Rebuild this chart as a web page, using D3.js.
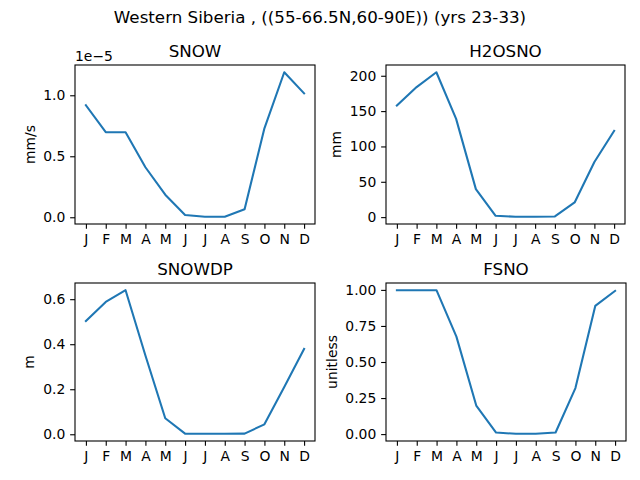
<!DOCTYPE html>
<html>
  <head>
    <meta charset="utf-8">
    <title>Western Siberia snow climatology</title>
    <script src="https://cdn.jsdelivr.net/npm/d3@7"></script>
    <style>
      body { margin: 0; background: #fff; }
      #chart { width: 640px; height: 480px; display: block; font-family: "DejaVu Sans", sans-serif; }
      .axis text { font-size: 13.9px; fill: #000; font-family: "DejaVu Sans", sans-serif; }
      .axis line { stroke: #000; stroke-width: 1.1px; }
      .axis path { display: none; }
      .frame { fill: none; stroke: #000; stroke-width: 1.1px; }
      .series { fill: none; stroke: #1f77b4; stroke-width: 2.08px; stroke-linejoin: round; stroke-linecap: square; }
      .panelTitle, #suptitle { font-size: 16.7px; text-anchor: middle; }
      .yLabel { font-size: 13.9px; text-anchor: middle; }
    </style>
  </head>

  <body>
    <svg id="chart" width="640" height="480">
      <text id="suptitle" x="320" y="23">Western Siberia , ((55-66.5N,60-90E)) (yrs 23-33)</text>
    </svg>

    <script>
      // data, monthly means
      months = ["J", "F", "M", "A", "M", "J", "J", "A", "S", "O", "N", "D"];
      snow = [0.918e-5, 0.697e-5, 0.697e-5, 0.41e-5, 0.185e-5, 0.018e-5, 0.004e-5, 0.004e-5, 0.066e-5, 0.729e-5, 1.189e-5, 1.016e-5];
      h2osno = [158, 184, 205, 139, 39.6, 1.9, 0.5, 0.5, 1, 20.8, 78, 122];
      snowdp = [0.503, 0.588, 0.640, 0.35, 0.071, 0.003, 0.002, 0.002, 0.003, 0.044, 0.21, 0.379];
      fsno = [0.998, 0.998, 0.997, 0.676, 0.198, 0.011, 0.002, 0.002, 0.011, 0.319, 0.889, 0.993];

      // y tick values per panel
      snowTicks = [0, 0.5e-5, 1e-5];
      h2osnoTicks = [0, 50, 100, 150, 200];
      snowdpTicks = [0, 0.2, 0.4, 0.6];
      fsnoTicks = [0, 0.25, 0.5, 0.75, 1];

      panels = [
        { title: "SNOW", unit: "mm/s", values: snow, ticks: snowTicks, format: d => (d / 1e-5).toFixed(1), offset: "1e\u22125",
          left: 75, right: 315, top: 65, bottom: 224 },
        { title: "H2OSNO", unit: "mm", values: h2osno, ticks: h2osnoTicks, format: d3.format("d"),
          left: 386, right: 625, top: 65, bottom: 224 },
        { title: "SNOWDP", unit: "m", values: snowdp, ticks: snowdpTicks, format: d3.format(".1f"),
          left: 75, right: 315, top: 283, bottom: 441 },
        { title: "FSNO", unit: "unitless", values: fsno, ticks: fsnoTicks, format: d3.format(".2f"),
          left: 386, right: 626, top: 283, bottom: 441 }
      ];

      chart = d3.select("#chart");
      tickLen = 4.86;
      tickPad = 4.86;

      panels.forEach(p => {
        g = chart.append("g");

        // matplotlib style 5% margins
        x = d3.scaleLinear()
          .domain([-0.55, months.length - 1 + 0.55])
          .range([p.left, p.right]);
        ext = d3.extent(p.values);
        pad = (ext[1] - ext[0]) * 0.05;
        y = d3.scaleLinear()
          .domain([ext[0] - pad, ext[1] + pad])
          .range([p.bottom, p.top]);

        xAxis = d3.axisBottom(x)
          .tickValues(d3.range(months.length))
          .tickFormat(i => months[i])
          .tickSizeInner(tickLen)
          .tickSizeOuter(0)
          .tickPadding(tickPad);
        yAxis = d3.axisLeft(y)
          .tickValues(p.ticks)
          .tickFormat(p.format)
          .tickSizeInner(tickLen)
          .tickSizeOuter(0)
          .tickPadding(tickPad);

        g.append("g").attr("class", "axis")
          .attr("transform", "translate(0," + p.bottom + ")")
          .call(xAxis);
        yg = g.append("g").attr("class", "axis")
          .attr("transform", "translate(" + p.left + ",0)")
          .call(yAxis);

        line = d3.line()
          .x((d, i) => x(i))
          .y(d => y(d));
        g.append("path")
          .attr("class", "series")
          .attr("d", line(p.values));

        g.append("rect")
          .attr("class", "frame")
          .attr("x", p.left)
          .attr("y", p.top)
          .attr("width", p.right - p.left)
          .attr("height", p.bottom - p.top);

        g.append("text")
          .attr("class", "panelTitle")
          .attr("x", (p.left + p.right) / 2)
          .attr("y", p.top - 8.3)
          .text(p.title);

        if (p.offset) {
          g.append("text")
            .attr("x", p.left)
            .attr("y", p.top - 4)
            .style("font-size", "13.9px")
            .text(p.offset);
        }

        // y label sits left of the widest tick label
        maxW = d3.max(yg.selectAll(".tick text").nodes(), n => n.getBBox().width);
        lx = p.left - tickLen - tickPad - maxW - 5.6 - 3;
        g.append("text")
          .attr("class", "yLabel")
          .attr("transform", "translate(" + lx + "," + ((p.top + p.bottom) / 2) + ") rotate(-90)")
          .text(p.unit);
      });
    </script>
  </body>
</html>
